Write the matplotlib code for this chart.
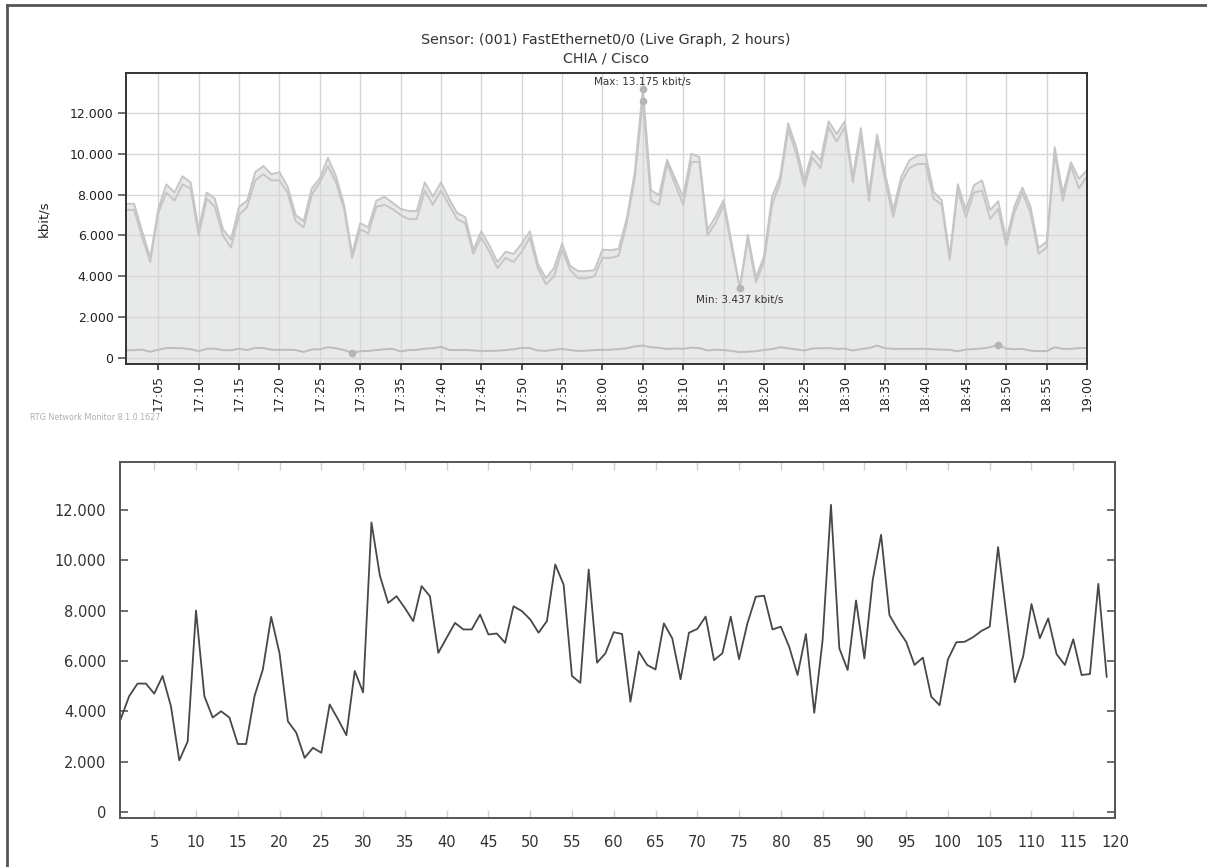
import matplotlib
matplotlib.use("Agg")
import matplotlib.pyplot as plt
from matplotlib.lines import Line2D

# ---- top panel: PRTG live graph, one sample per minute 17:01 .. 19:00 ----
minutes = list(range(1, 121))
traffic_total = [
    7550, 7550, 6200, 4900, 7300, 8500, 8100, 8900, 8600, 6300,
    8100, 7800, 6300, 5800, 7400, 7700, 9100, 9400, 9000, 9100,
    8400, 7000, 6700, 8300, 8800, 9800, 8900, 7500, 5100, 6600,
    6400, 7700, 7900, 7600, 7300, 7200, 7200, 8600, 7900, 8600,
    7800, 7100, 6900, 5300, 6200, 5500, 4700, 5200, 5100, 5600,
    6200, 4600, 3900, 4400, 5600, 4500, 4250, 4250, 4300, 5300,
    5280, 5340, 6800, 9100, 13175, 8220, 7970, 9710, 8780, 7890,
    10000, 9840, 6270, 6920, 7730, 5620, 3437, 6030, 3920, 4980,
    7890, 8870, 11490, 10320, 8700, 10130, 9680, 11590, 10970, 11590,
    8870, 11260, 8050, 10940, 9030, 7240, 8870, 9680, 9920, 9970,
    8140, 7730, 4980, 8510, 7240, 8460, 8700, 7240, 7680, 5790,
    7410, 8350, 7410, 5380, 5700, 10320, 8050, 9590, 8780, 9190,
]
traffic_in = [
    7250, 7250, 5900, 4700, 7100, 8100, 7700, 8500, 8300, 6000,
    7800, 7400, 6000, 5400, 7000, 7400, 8700, 9000, 8700, 8700,
    8100, 6700, 6400, 8000, 8600, 9400, 8600, 7300, 4900, 6300,
    6100, 7400, 7500, 7300, 7000, 6800, 6800, 8200, 7500, 8200,
    7500, 6800, 6600, 5100, 5900, 5200, 4400, 4900, 4700, 5200,
    5900, 4400, 3600, 4000, 5300, 4300, 3900, 3900, 4000, 4900,
    4900, 5000, 6600, 8800, 12600, 7700, 7500, 9500, 8500, 7500,
    9600, 9600, 6000, 6600, 7500, 5400, 3400, 5800, 3700, 4700,
    7500, 8600, 11200, 10000, 8400, 9800, 9300, 11300, 10600, 11300,
    8600, 10900, 7700, 10700, 8700, 6900, 8600, 9300, 9500, 9500,
    7800, 7500, 4800, 8200, 6900, 8100, 8200, 6800, 7300, 5500,
    7100, 8100, 7100, 5100, 5400, 10000, 7700, 9400, 8300, 8900,
]
traffic_out = [
    370, 380, 400, 300, 400, 480, 480, 470, 420, 330,
    440, 450, 380, 370, 450, 380, 490, 480, 400, 390,
    400, 380, 290, 410, 420, 520, 470, 380, 250, 320,
    340, 380, 420, 440, 320, 380, 390, 450, 470, 540,
    390, 380, 390, 360, 340, 340, 350, 380, 420, 490,
    480, 360, 340, 400, 440, 380, 340, 350, 380, 390,
    400, 430, 470, 560, 600, 520, 490, 430, 460, 440,
    500, 480, 360, 400, 380, 340, 280, 300, 320, 390,
    430, 520, 470, 410, 360, 460, 470, 480, 440, 450,
    360, 430, 480, 600, 470, 440, 440, 440, 440, 440,
    420, 400, 390, 320, 410, 430, 460, 520, 650, 450,
    420, 440, 350, 330, 330, 520, 440, 440, 480, 480,
]
time_ticks = list(range(5, 121, 5))
time_labels = ["17:05", "17:10", "17:15", "17:20", "17:25", "17:30", "17:35", "17:40",
               "17:45", "17:50", "17:55", "18:00", "18:05", "18:10", "18:15", "18:20",
               "18:25", "18:30", "18:35", "18:40", "18:45", "18:50", "18:55", "19:00"]
y_ticks = [0, 2000, 4000, 6000, 8000, 10000, 12000]
y_labels = ["0", "2.000", "4.000", "6.000", "8.000", "10.000", "12.000"]

# ---- bottom panel: redrawn series ----
samples = list(range(1, 120))
redrawn = [
    3700, 4600, 5100, 5100, 4700, 5400, 4200, 2050, 2800, 8000,
    4600, 3750, 4000, 3750, 2700, 2700, 4600, 5660, 7750, 6300,
    3600, 3150, 2150, 2550, 2350, 4270, 3680, 3050, 5600, 4750,
    11500, 9400, 8300, 8570, 8100, 7580, 8970, 8570, 6320, 6920,
    7510, 7250, 7250, 7840, 7050, 7090, 6720, 8170, 7980, 7650,
    7120, 7580, 9830, 9030, 5400, 5130, 9630, 5930, 6300, 7140,
    7070, 4380, 6370, 5840, 5660, 7490, 6900, 5270, 7120, 7270,
    7760, 6030, 6300, 7760, 6070, 7490, 8550, 8590, 7250, 7360,
    6560, 5440, 7070, 3940, 6830, 12200, 6500, 5640, 8400, 6100,
    9220, 11010, 7820, 7250, 6760, 5840, 6130, 4580, 4240, 6060,
    6740, 6760, 6940, 7190, 7360, 10520, 7820, 5150, 6170, 8260,
    6900, 7690, 6270, 5840, 6860, 5440, 5480, 9060, 5370,
]
sample_ticks = list(range(5, 121, 5))

LINE_GREY = "#c6c6c6"
FILL_GREY = "#e8e9e9"
GRID_GREY = "#d6d6d6"
TEXT = "#333333"

fig = plt.figure(figsize=(12.07, 8.67), dpi=100)
fig.patch.set_facecolor("white")

# outer frame (left and top edge only, like the screenshot)
fig.add_artist(Line2D([0.0055, 0.0055], [0, 0.9945], transform=fig.transFigure, color="#555555", lw=2))
fig.add_artist(Line2D([0.0055, 1], [0.9945, 0.9945], transform=fig.transFigure, color="#555555", lw=2))

# --- top chart ---
ax1 = fig.add_axes([0.1044, 0.5802, 0.7962, 0.3356])
ax1.fill_between(minutes, traffic_total, -300, color=FILL_GREY, lw=0, zorder=0.5)
ax1.grid(True, color=GRID_GREY, lw=1, zorder=1)
ax1.plot(minutes, traffic_total, color=LINE_GREY, lw=1.4, zorder=2)
ax1.plot(minutes, traffic_in, color=LINE_GREY, lw=1.4, zorder=2)
ax1.plot(minutes, traffic_out, color="#bdbdbd", lw=1.4, zorder=2)

i_max = traffic_total.index(max(traffic_total))
i_min = traffic_total.index(min(traffic_total))
i_in_max = traffic_in.index(max(traffic_in))
i_out_min = traffic_out.index(min(traffic_out))
i_out_max = traffic_out.index(max(traffic_out))
for x, y in [(minutes[i_max], traffic_total[i_max]), (minutes[i_in_max], traffic_in[i_in_max]),
             (minutes[i_min], traffic_total[i_min]), (minutes[i_out_min], traffic_out[i_out_min]),
             (minutes[i_out_max], traffic_out[i_out_max])]:
    ax1.plot(x, y, "o", color="#b5b5b5", ms=4.5, zorder=3)

ax1.annotate("Max: 13.175 kbit/s", (minutes[i_max], traffic_total[i_max]), xytext=(0, 5),
             textcoords="offset points", ha="center", va="center", fontsize=7.5, color=TEXT)
ax1.annotate("Min: 3.437 kbit/s", (minutes[i_min], traffic_total[i_min]), xytext=(0, -9),
             textcoords="offset points", ha="center", va="center", fontsize=7.5, color=TEXT)

ax1.set_xlim(1, 120)
ax1.set_ylim(-300, 13960)
ax1.set_xticks(time_ticks)
ax1.set_xticklabels(time_labels, rotation=90, fontsize=9, color="#222222")
ax1.set_yticks(y_ticks)
ax1.set_yticklabels(y_labels, fontsize=9, color="#222222")
ax1.tick_params(axis="x", length=4, width=1.2, pad=4, color="#333333")
ax1.tick_params(axis="y", length=6, width=1.2, pad=3, color="#555555")
for side in ax1.spines.values():
    side.set_color("#333333")
    side.set_linewidth(1.4)
ax1.set_ylabel("kbit/s", fontsize=9.5, color="#222222", labelpad=14)

fig.text(0.502, 0.954, "Sensor: (001) FastEthernet0/0 (Live Graph, 2 hours)",
         ha="center", va="center", fontsize=10.3, color=TEXT)
fig.text(0.502, 0.933, "CHIA / Cisco", ha="center", va="center", fontsize=10.3, color=TEXT)
fig.text(0.025, 0.518, "RTG Network Monitor 8.1.0.1627", ha="left", va="center",
         fontsize=5.8, color="#b0b0b0")

# --- bottom chart ---
ax2 = fig.add_axes([0.0994, 0.0565, 0.8244, 0.4106])
ax2.plot(samples, redrawn, color="#484848", lw=1.3)
ax2.set_xlim(0.9, 120)
ax2.set_ylim(-240, 13900)
ax2.set_xticks(sample_ticks)
ax2.set_xticklabels([str(t) for t in sample_ticks], fontsize=10.5, color="#333333")
ax2.set_yticks(y_ticks)
ax2.set_yticklabels(y_labels, fontsize=10.5, color="#333333")
ax2.tick_params(axis="x", which="both", direction="in", bottom=True, top=True,
                length=6, width=1, color="#cfcfcf", pad=12)
ax2.tick_params(axis="y", which="both", direction="in", left=True, right=True,
                length=6, width=1.2, color="#555555", pad=10)
for side in ax2.spines.values():
    side.set_color("#555555")
    side.set_linewidth(1.4)

fig.savefig("out.png", dpi=100)
